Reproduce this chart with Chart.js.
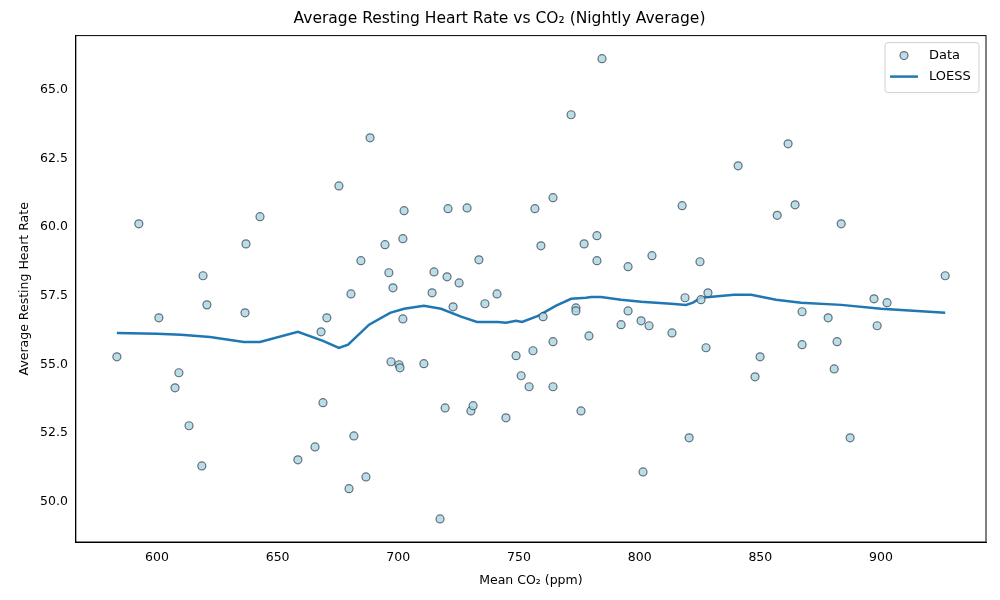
<!DOCTYPE html>
<html>
<head>
<meta charset="utf-8">
<script src="https://cdn.jsdelivr.net/npm/chart.js@4/dist/chart.umd.min.js"></script>
<style>
  body { margin: 0; background: #fff; }
  #chart { display: block; }
</style>
</head>
<body>
<canvas id="chart" width="1000" height="600"></canvas>
<script>
// nightly averages: CO2 (ppm) and resting heart rate
const co2 = [583.4, 592.5, 600.8, 607.5, 609.1, 613.3, 618.6, 619.1, 620.7, 636.5,
    636.9, 642.7, 658.4, 665.5, 668.0, 668.8, 670.4, 675.4, 679.6, 680.4,
    681.6, 684.5, 686.6, 688.3, 694.5, 696.1, 697.0, 697.8, 700.3, 700.7,
    701.9, 701.9, 702.4, 710.6, 714.0, 714.8, 717.3, 719.4, 720.2, 720.6,
    722.7, 725.2, 728.5, 730.1, 731.0, 733.4, 735.9, 740.9, 744.6, 748.8,
    750.9, 754.2, 755.8, 756.6, 759.1, 760.0, 764.1, 764.1, 764.1, 771.6,
    773.6, 773.6, 775.7, 777.0, 779.0, 782.3, 782.3, 784.4, 792.3, 795.2,
    795.2, 800.6, 801.4, 803.9, 805.1, 813.4, 817.6, 818.8, 820.5, 825.0,
    825.4, 827.5, 828.3, 840.8, 847.8, 849.9, 857.0, 861.5, 864.4, 867.3,
    867.3, 878.1, 880.6, 881.8, 883.5, 887.2, 897.1, 898.4, 902.5, 926.6];
const heartRate = [55.28, 60.12, 56.70, 54.15, 54.70, 52.77, 51.31, 58.23, 57.17, 56.88,
    59.39, 60.38, 51.53, 52.00, 56.19, 53.61, 56.70, 61.50, 50.48, 57.57,
    52.40, 58.78, 50.91, 63.25, 59.36, 58.34, 55.10, 57.79, 54.99, 54.88,
    56.66, 59.58, 60.60, 55.03, 57.61, 58.37, 49.38, 53.42, 58.19, 60.67,
    57.10, 57.97, 60.70, 53.31, 53.50, 58.81, 57.21, 57.57, 53.06, 55.32,
    54.59, 54.19, 55.50, 60.67, 59.32, 56.74, 61.07, 55.83, 54.19, 64.09,
    57.06, 56.95, 53.31, 59.39, 56.04, 59.69, 58.78, 66.13, 56.45, 58.56,
    56.95, 56.59, 51.09, 56.41, 58.96, 56.15, 60.78, 57.43, 52.33, 58.74,
    57.36, 55.61, 57.61, 62.23, 54.55, 55.28, 60.43, 63.03, 60.81, 56.92,
    55.72, 56.70, 54.84, 55.83, 60.12, 52.33, 57.39, 56.41, 57.25, 58.23];

// LOESS fit
const loessX = [583.4, 600, 610, 622, 636, 642.7, 658.4, 668.8, 675.4, 679.2,
    687.9, 696.6, 702.4, 710.6, 717.7, 726, 732.6, 741.3, 744.6, 748.8,
    751.3, 757.9, 765.4, 771.6, 777.8, 779.9, 784, 792.3, 800.6, 813,
    819.2, 822.1, 825.4, 839.1, 846.2, 856.5, 866.9, 883.5, 900, 926.6];
const loessY = [56.15, 56.12, 56.08, 56.0, 55.82, 55.82, 56.19, 55.86, 55.6, 55.72,
    56.45, 56.88, 57.03, 57.14, 57.03, 56.74, 56.55, 56.55, 56.52, 56.59,
    56.55, 56.77, 57.14, 57.39, 57.43, 57.46, 57.46, 57.36, 57.28, 57.21,
    57.17, 57.25, 57.43, 57.54, 57.54, 57.36, 57.25, 57.17, 57.03, 56.88];

const xTicks = [600, 650, 700, 750, 800, 850, 900];
const yTicks = [50.0, 52.5, 55.0, 57.5, 60.0, 62.5, 65.0];

const font = { family: 'DejaVu Sans', size: 12.5 };
Chart.defaults.font = font;
Chart.defaults.color = '#000';

// black frame + matplotlib-like legend in the top-right corner
const framePlugin = {
    id: 'frame',
    afterDraw(chart) {
        const { ctx, chartArea: a } = chart;
        ctx.save();
        ctx.strokeStyle = '#000';
        ctx.lineWidth = 1;
        ctx.strokeRect(a.left, a.top, a.right - a.left, a.bottom - a.top);

        const w = 94, h = 50;
        const x0 = a.right - w - 7, y0 = a.top + 7;
        ctx.fillStyle = 'rgba(255,255,255,0.8)';
        ctx.strokeStyle = '#d0d0d0';
        ctx.beginPath();
        ctx.roundRect(x0, y0, w, h, 3);
        ctx.fill();
        ctx.stroke();

        const ds = chart.data.datasets;
        ctx.beginPath();
        ctx.arc(x0 + 19, y0 + 13, 4, 0, Math.PI * 2);
        ctx.fillStyle = ds[0].backgroundColor;
        ctx.fill();
        ctx.strokeStyle = ds[0].borderColor;
        ctx.lineWidth = 1.2;
        ctx.stroke();

        ctx.beginPath();
        ctx.moveTo(x0 + 5, y0 + 34);
        ctx.lineTo(x0 + 33, y0 + 34);
        ctx.strokeStyle = ds[1].borderColor;
        ctx.lineWidth = 2.5;
        ctx.stroke();

        ctx.fillStyle = '#000';
        ctx.font = '13px "DejaVu Sans"';
        ctx.textBaseline = 'middle';
        ctx.fillText(ds[0].label, x0 + 44, y0 + 13);
        ctx.fillText(ds[1].label, x0 + 44, y0 + 34);
        ctx.restore();
    }
};

new Chart(document.getElementById('chart'), {
    type: 'scatter',
    data: {
        datasets: [
            {
                label: 'Data',
                data: co2.map((x, i) => ({ x, y: heartRate[i] })),
                backgroundColor: 'rgba(173, 216, 230, 0.85)',
                borderColor: 'rgba(60, 70, 80, 0.75)',
                borderWidth: 1.2,
                pointRadius: 4,
                pointHoverRadius: 4
            },
            {
                label: 'LOESS',
                type: 'line',
                data: loessX.map((x, i) => ({ x, y: loessY[i] })),
                borderColor: '#1f77b4',
                backgroundColor: '#1f77b4',
                borderWidth: 2.5,
                pointRadius: 0,
                fill: false,
                tension: 0
            }
        ]
    },
    options: {
        responsive: false,
        animation: false,
        layout: { padding: { left: 13, right: 14, top: 0, bottom: 8 } },
        plugins: {
            title: {
                display: true,
                text: 'Average Resting Heart Rate vs CO₂ (Nightly Average)',
                font: { family: 'DejaVu Sans', size: 15.5, weight: 'normal' },
                padding: { top: 10, bottom: 7 }
            },
            legend: { display: false },
            tooltip: { enabled: false }
        },
        scales: {
            x: {
                min: 566.4,
                max: 943.5,
                afterBuildTicks: (axis) => { axis.ticks = xTicks.map(v => ({ value: v })); },
                grid: { display: false, tickLength: 4 },
                border: { color: '#000' },
                ticks: { font, padding: 4 },
                title: { display: true, text: 'Mean CO₂ (ppm)', font: { family: 'DejaVu Sans', size: 12.5 } }
            },
            y: {
                min: 48.54,
                max: 66.97,
                afterBuildTicks: (axis) => { axis.ticks = yTicks.map(v => ({ value: v })); },
                grid: { display: false, tickLength: 4 },
                border: { color: '#000' },
                ticks: { font, padding: 4, callback: v => v.toFixed(1) },
                title: { display: true, text: 'Average Resting Heart Rate', font: { family: 'DejaVu Sans', size: 12.5 } }
            }
        }
    },
    plugins: [framePlugin]
});
</script>
</body>
</html>
